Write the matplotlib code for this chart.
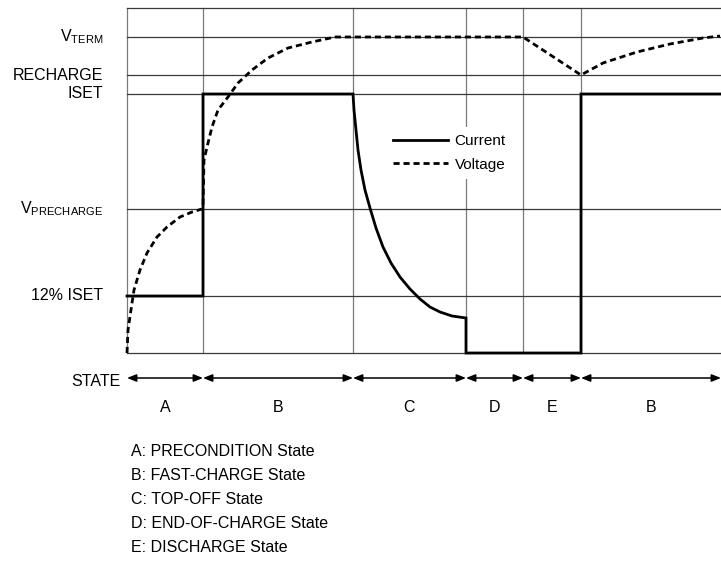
import matplotlib
matplotlib.use('Agg')
import matplotlib.pyplot as plt

plt.rcParams['font.family'] = ['Liberation Sans', 'DejaVu Sans']
plt.rcParams['mathtext.default'] = 'regular'

# state boundaries along the time axis
state_edges = [0, 76, 226, 339, 396, 454, 594]
state_names = ['A', 'B', 'C', 'D', 'E', 'B']
state_notes = ['A: PRECONDITION State', 'B: FAST-CHARGE State', 'C: TOP-OFF State',
               'D: END-OF-CHARGE State', 'E: DISCHARGE State']

# reference levels
level_labels = [r'V$_{TERM}$', 'RECHARGE', 'ISET', r'V$_{PRECHARGE}$', '12% ISET']
level_values = [316, 278, 259, 144, 57]
top_level = 345

# current trace
current_t = [0, 76, 76, 226, 227, 229, 231, 234, 238, 243, 249, 256, 264,
             273, 283, 293, 303, 313, 325, 339,
             339, 454, 454, 594]
current_v = [57, 57, 259, 259, 243, 223, 203, 183, 163, 145, 125, 106, 90,
             76, 64, 54, 46, 41, 37, 35,
             0, 0, 259, 259]

# voltage trace
voltage_t = [0, 1, 5, 7, 13, 20, 30, 40, 53, 65, 75, 76,
             77, 81, 85, 91, 101, 111, 125, 141, 161, 185, 208, 226,
             396, 454,
             476, 510, 543, 576, 593]
voltage_v = [0, 23, 50, 63, 83, 100, 116, 126, 136, 141, 144, 146,
             193, 210, 226, 243, 256, 270, 283, 295, 305, 311, 316, 316,
             316, 278,
             290, 301, 309, 315, 317]

fig = plt.figure(figsize=(7.21, 5.62), dpi=100)
ax = fig.add_axes([127 / 721, (562 - 353) / 562, 594 / 721, 345 / 562])
ax.set_xlim(0, 594)
ax.set_ylim(0, top_level)
ax.axis('off')

# grid
for x in state_edges[:-1]:
    ax.plot([x, x], [0, top_level], color='#7a7a7a', lw=0.9, clip_on=False, zorder=1)
for y in [0, top_level] + level_values:
    ax.plot([0, 594], [y, y], color='#3a3a3a', lw=0.9, clip_on=False, zorder=1)

cur, = ax.plot(current_t, current_v, color='black', lw=2.0, clip_on=False,
               solid_joinstyle='miter', zorder=3, label='Current')
vol, = ax.plot(voltage_t, voltage_v, color='black', lw=2.0, clip_on=False,
               dashes=(2.2, 1.4), zorder=3, label='Voltage')

leg = ax.legend(handles=[cur, vol], loc='center left', bbox_to_anchor=(258, 200),
                bbox_transform=ax.transData, fontsize=11, handlelength=3.6,
                handletextpad=0.45, labelspacing=0.6, borderpad=0.5,
                borderaxespad=0, frameon=True, fancybox=False)
leg.get_frame().set_facecolor('white')
leg.get_frame().set_edgecolor('none')
leg.get_frame().set_alpha(1)
leg.set_zorder(5)

# level labels
for lab, y in zip(level_labels, level_values):
    ax.text(-24, y, lab, ha='right', va='center', fontsize=11.5, clip_on=False)

# state arrows
arrow_y = -25
ax.text(-6, arrow_y - 3, 'STATE', ha='right', va='center', fontsize=11.5)
for i, name in enumerate(state_names):
    x0, x1 = state_edges[i], state_edges[i + 1]
    ax.annotate('', xy=(x1, arrow_y), xytext=(x0, arrow_y), annotation_clip=False,
                arrowprops=dict(arrowstyle='<|-|>,head_length=0.55,head_width=0.22',
                                lw=1.1, color='black', shrinkA=0, shrinkB=0))
    ax.text((x0 + x1) / 2, arrow_y - 29, name, ha='center', va='center', fontsize=11.5)

for i, note in enumerate(state_notes):
    ax.text(4, -98 - 24.2 * i, note, ha='left', va='center', fontsize=11.5)

fig.savefig('out.png', dpi=100)
